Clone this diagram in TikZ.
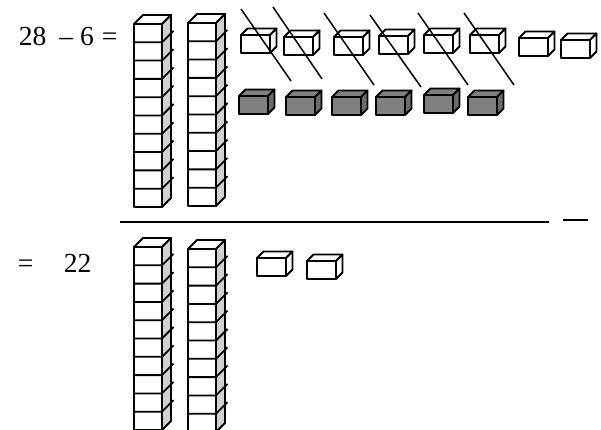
\documentclass[tikz,border=0pt]{standalone}
\usepackage{fontspec}
\setmainfont{Liberation Serif}
\newcommand\ucube[4]{%
  \begin{scope}[shift={(#1,#2)}]
    \filldraw[fill=#3] (0,0) -- (6.5,-6.5) -- (35.5,-6.5) -- (29,0) -- cycle;
    \filldraw[fill=#4] (29,0) -- (35.5,-6.5) -- (35.5,11.5) -- (29,18) -- cycle;
    \filldraw[fill=#3] (0,0) rectangle (29,18);
  \end{scope}}
\newcommand\tenrod[2]{%
  \begin{scope}[shift={(#1,#2)}]
    \filldraw[fill=white] (0,0) -- (9,-9) -- (37,-9) -- (28,0) -- cycle;
    \filldraw[fill=rodside] (28,0) -- (37,-9) -- (37,174) -- (28,183) -- cycle;
    \filldraw[fill=white] (0,0) rectangle (28,183);
    \foreach \k in {1,...,9}{
      \draw (0,18.3*\k) -- (28,18.3*\k) -- (39.5,18.3*\k-11.5);
    }
  \end{scope}}
\definecolor{rodside}{gray}{0.82}
\definecolor{darkfront}{gray}{0.5}
\definecolor{darkside}{gray}{0.42}
\begin{document}
\begin{tikzpicture}[x=1pt,y=-1pt,line width=1.8pt,line join=round,
  eqtext/.style={inner sep=0pt,anchor=base west,font=\fontsize{27.5}{32}\selectfont},
  strike/.style={line width=1.5pt},
  rule/.style={line width=2pt}]
\useasboundingbox (0,0) rectangle (601,430);
% equation text
\node[eqtext] (top) at (18,46) {28\hspace{13pt}–\hspace{7pt}6\hspace{8pt}=};
\node[eqtext] (eqb) at (17,272) {=};
\node[eqtext] (res) at (63,272) {22};
% tens rods
\tenrod{134}{24}
\tenrod{188}{23}
\tenrod{134}{247}
\tenrod{188}{249}
% white unit cubes, top row
\foreach \x/\y in {241/35,284/37,334/37,379/36,424/35,470/35,519/38,561/40}{
  \ucube{\x}{\y}{white}{white}
}
% dark unit cubes
\foreach \x/\y in {239/96,286/97,332/97,376/97,424/95,468/97}{
  \ucube{\x}{\y}{darkfront}{darkside}
}
% strike-through lines
\coordinate (s1a) at (241,9);  \coordinate (s1b) at (291,81);
\coordinate (s2a) at (273,7);  \coordinate (s2b) at (322,79);
\coordinate (s3a) at (324,13); \coordinate (s3b) at (374,85);
\coordinate (s4a) at (370,15); \coordinate (s4b) at (421,87);
\coordinate (s5a) at (418,13); \coordinate (s5b) at (468,85);
\coordinate (s6a) at (464,13); \coordinate (s6b) at (514,85);
\foreach \i in {1,...,6}{\draw[strike] (s\i a) -- (s\i b);}
% rule
\coordinate (ra) at (120,222); \coordinate (rb) at (549,222);
\coordinate (da) at (563,220); \coordinate (db) at (588,220);
\draw[rule] (ra) -- (rb);
\draw[rule] (da) -- (db);
% result unit cubes
\ucube{257}{258}{white}{white}
\ucube{307}{261}{white}{white}
\end{tikzpicture}
\end{document}
